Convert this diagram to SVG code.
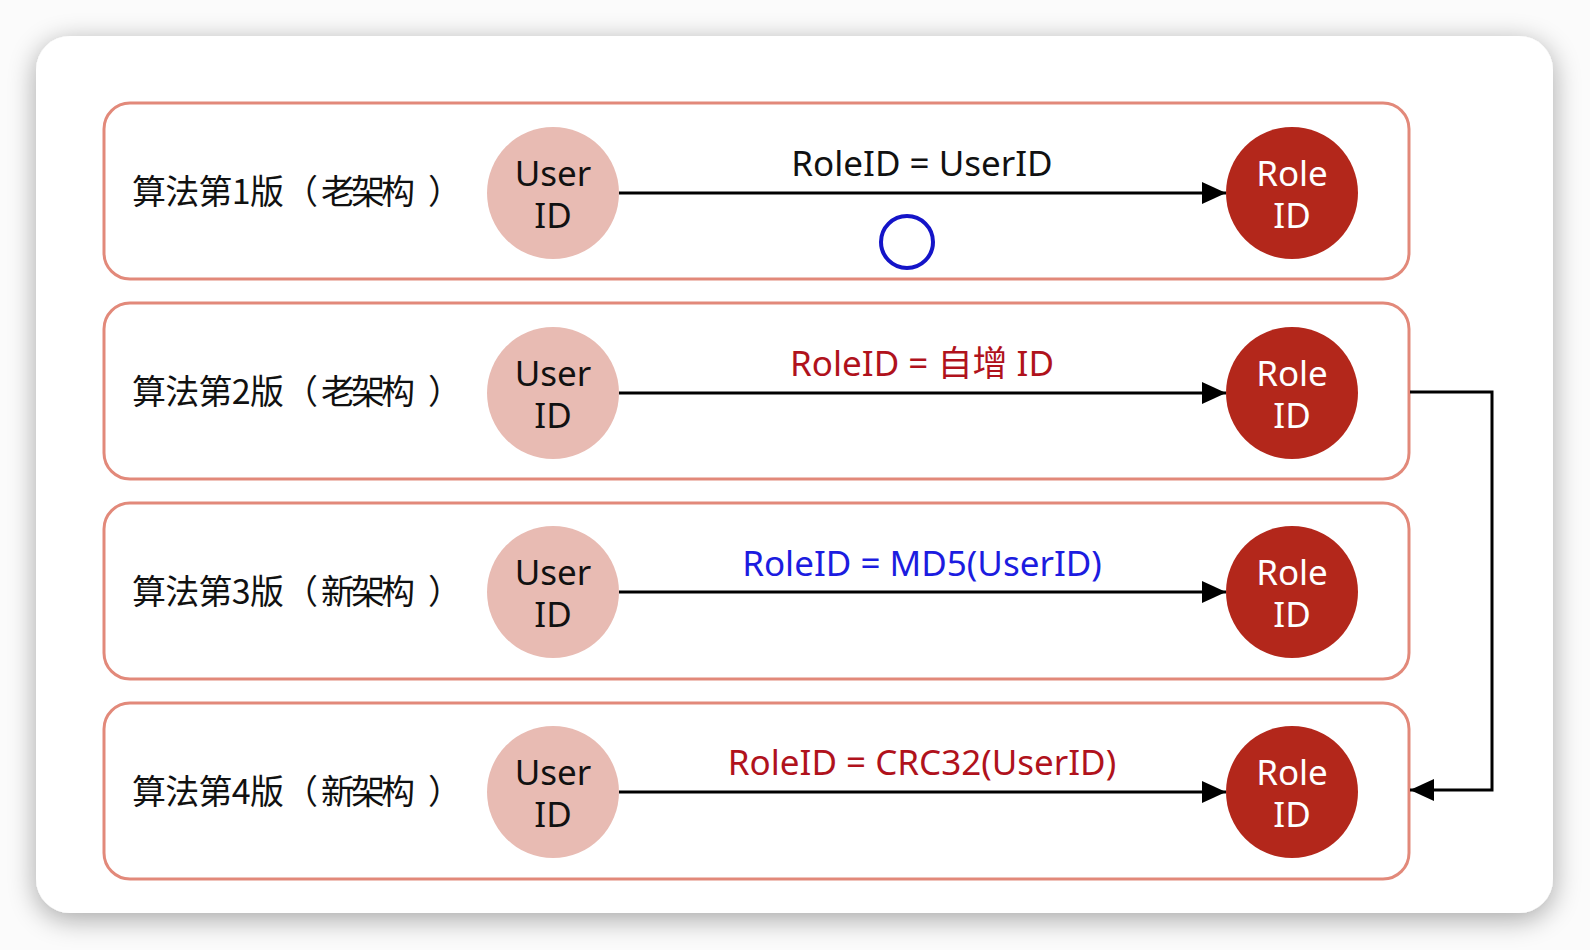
<svg xmlns="http://www.w3.org/2000/svg" width="1590" height="950" viewBox="0 0 1590 950">
<defs>
<filter id="shadow" x="-10%" y="-10%" width="120%" height="120%">
<feGaussianBlur in="SourceAlpha" stdDeviation="14"/>
<feOffset dx="0" dy="6" result="b"/>
<feComponentTransfer><feFuncA type="linear" slope="0.35"/></feComponentTransfer>
<feMerge><feMergeNode/><feMergeNode in="SourceGraphic"/></feMerge>
</filter>
<marker id="arr" viewBox="0 0 24 22" refX="24" refY="11" markerWidth="24" markerHeight="22" markerUnits="userSpaceOnUse" orient="auto">
<path d="M0,0 L24,11 L0,22 Z" fill="#000"/>
</marker>
</defs>
<style>
.box{fill:#fff;stroke:#e2897a;stroke-width:3}
.user{fill:#e8bbb3}
.role{fill:#b3271b}
.lbl{font-family:"Noto Sans CJK SC","Noto Sans",sans-serif;font-size:34px;fill:#111}
.ctext{font-family:"Noto Sans","Noto Sans CJK SC",sans-serif;font-size:35px;text-anchor:middle}
.etext{font-family:"Noto Sans","Noto Sans CJK SC",sans-serif;font-size:35px;text-anchor:middle}
.line{stroke:#000;stroke-width:3;fill:none}
</style>
<rect width="1590" height="950" fill="#fbfbfb"/>
<rect x="36" y="36" width="1517" height="877" rx="34" fill="#fff" filter="url(#shadow)"/>

<g id="row1">
<rect class="box" x="104" y="103" width="1305" height="176" rx="26"/>
<text class="lbl" y="204"><tspan x="132" textLength="152" lengthAdjust="spacing">算法第1版</tspan><tspan x="284">（</tspan><tspan x="321" textLength="94" lengthAdjust="spacing">老架构</tspan><tspan x="428">）</tspan></text>
</g>
<g id="row2">
<rect class="box" x="104" y="303" width="1305" height="176" rx="26"/>
<text class="lbl" y="404"><tspan x="132" textLength="152" lengthAdjust="spacing">算法第2版</tspan><tspan x="284">（</tspan><tspan x="321" textLength="94" lengthAdjust="spacing">老架构</tspan><tspan x="428">）</tspan></text>
</g>
<g id="row3">
<rect class="box" x="104" y="503" width="1305" height="176" rx="26"/>
<text class="lbl" y="604"><tspan x="132" textLength="152" lengthAdjust="spacing">算法第3版</tspan><tspan x="284">（</tspan><tspan x="321" textLength="94" lengthAdjust="spacing">新架构</tspan><tspan x="428">）</tspan></text>
</g>
<g id="row4">
<rect class="box" x="104" y="703" width="1305" height="176" rx="26"/>
<text class="lbl" y="804"><tspan x="132" textLength="152" lengthAdjust="spacing">算法第4版</tspan><tspan x="284">（</tspan><tspan x="321" textLength="94" lengthAdjust="spacing">新架构</tspan><tspan x="428">）</tspan></text>
</g>

<g id="connectors">
<line class="line" x1="619" y1="193" x2="1226" y2="193" marker-end="url(#arr)"/>
<line class="line" x1="619" y1="393" x2="1226" y2="393" marker-end="url(#arr)"/>
<line class="line" x1="619" y1="592" x2="1226" y2="592" marker-end="url(#arr)"/>
<line class="line" x1="619" y1="792" x2="1226" y2="792" marker-end="url(#arr)"/>
<path class="line" d="M1410,392 H1492 V790 H1410" marker-end="url(#arr)"/>
<text class="etext" x="922" y="176" fill="#111">RoleID = UserID</text>
<text class="etext" x="922" y="376" fill="#b0121c">RoleID = 自增 ID</text>
<text class="etext" x="922" y="576" fill="#1c1ce0">RoleID = MD5(UserID)</text>
<text class="etext" x="922" y="775" fill="#b0121c">RoleID = CRC32(UserID)</text>
</g>

<g id="user1"><circle class="user" cx="553" cy="193" r="66"/><text class="ctext" fill="#111"><tspan x="553" y="186">User</tspan><tspan x="553" y="228">ID</tspan></text></g>
<g id="user2"><circle class="user" cx="553" cy="393" r="66"/><text class="ctext" fill="#111"><tspan x="553" y="386">User</tspan><tspan x="553" y="428">ID</tspan></text></g>
<g id="user3"><circle class="user" cx="553" cy="592" r="66"/><text class="ctext" fill="#111"><tspan x="553" y="585">User</tspan><tspan x="553" y="627">ID</tspan></text></g>
<g id="user4"><circle class="user" cx="553" cy="792" r="66"/><text class="ctext" fill="#111"><tspan x="553" y="785">User</tspan><tspan x="553" y="827">ID</tspan></text></g>

<g id="role1"><circle class="role" cx="1292" cy="193" r="66"/><text class="ctext" fill="#fff"><tspan x="1292" y="186">Role</tspan><tspan x="1292" y="228">ID</tspan></text></g>
<g id="role2"><circle class="role" cx="1292" cy="393" r="66"/><text class="ctext" fill="#fff"><tspan x="1292" y="386">Role</tspan><tspan x="1292" y="428">ID</tspan></text></g>
<g id="role3"><circle class="role" cx="1292" cy="592" r="66"/><text class="ctext" fill="#fff"><tspan x="1292" y="585">Role</tspan><tspan x="1292" y="627">ID</tspan></text></g>
<g id="role4"><circle class="role" cx="1292" cy="792" r="66"/><text class="ctext" fill="#fff"><tspan x="1292" y="785">Role</tspan><tspan x="1292" y="827">ID</tspan></text></g>

<circle id="marker-circle" cx="907" cy="242" r="26" fill="none" stroke="#1414c8" stroke-width="4"/>
</svg>
